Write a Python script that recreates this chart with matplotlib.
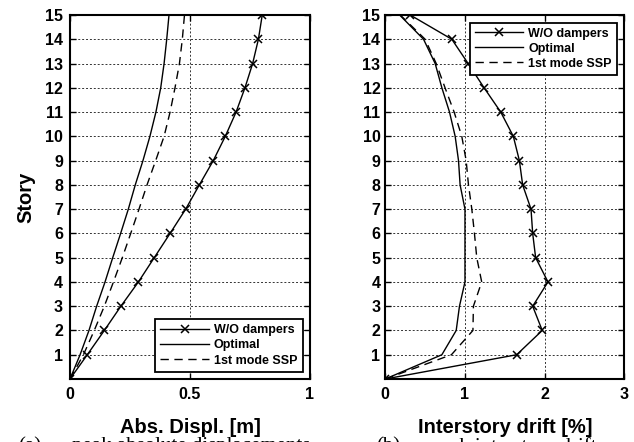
import matplotlib
matplotlib.use("Agg")
import matplotlib.pyplot as plt

# ---------------- data ----------------
stories = list(range(0, 16))
story_ticks = list(range(1, 16))

disp_wo = [0, 0.072, 0.143, 0.212, 0.285, 0.351, 0.417, 0.482, 0.539, 0.597,
           0.647, 0.692, 0.729, 0.761, 0.785, 0.801]
disp_opt = [0, 0.042, 0.079, 0.111, 0.146, 0.178, 0.211, 0.243, 0.272, 0.304,
            0.333, 0.358, 0.378, 0.392, 0.403, 0.4125]
disp_ssp = [0, 0.056, 0.101, 0.143, 0.181, 0.218, 0.253, 0.2875, 0.321, 0.357,
            0.392, 0.417, 0.4375, 0.456, 0.468, 0.477]

drift_wo = [0, 1.649, 1.97, 1.85, 2.042, 1.887, 1.85, 1.829, 1.724, 1.683,
            1.607, 1.449, 1.24, 1.04, 0.835, 0.313]
drift_opt = [0, 0.71, 0.89, 0.931, 1.0, 1.0, 1.0, 1.0, 0.939, 0.919,
             0.877, 0.806, 0.71, 0.626, 0.48, 0.18]
drift_ssp = [0, 0.83, 1.10, 1.106, 1.21, 1.148, 1.119, 1.086, 1.044, 1.015,
             0.96, 0.864, 0.75, 0.639, 0.50, 0.188]

labels = ["W/O dampers", "Optimal", "1st mode SSP"]
xlabels = ["Abs. Displ. [m]", "Interstory drift [%]"]
left_xticks = [0, 0.5, 1]
left_xticklabels = ["0", "0.5", "1"]
right_xticks = [0, 1, 2, 3]
right_xticklabels = ["0", "1", "2", "3"]

# ---------------- style ----------------
FONT = ["Liberation Sans", "DejaVu Sans"]
plt.rcParams["font.family"] = FONT
plt.rcParams["font.weight"] = "bold"

fig = plt.figure(figsize=(6.34, 4.42), dpi=100)
ax1 = fig.add_axes([70 / 634, 1 - 379 / 442, 240 / 634, 364 / 442])
ax2 = fig.add_axes([385.3 / 634, 1 - 379 / 442, 239 / 634, 364 / 442])

grid_kw = dict(color="#333333", lw=0.7, linestyle=(0, (2, 2)), zorder=0)
line_kw = dict(color="black", lw=1.0)


def draw(ax, wo, opt, ssp, xticks, xticklabels, xmax, xlabel, legloc, ypad):
    ax.set_xlim(0, xmax)
    ax.set_ylim(0, 15)
    for s in story_ticks[:-1]:
        ax.axhline(s, **grid_kw)
    for xv in xticks[1:-1]:
        ax.axvline(xv, **grid_kw)
    ax.plot(wo, stories, marker="x", ms=5.5, mew=1.1, label=labels[0], zorder=3, **line_kw)
    ax.plot(opt, stories, linestyle="-", label=labels[1], zorder=3, **line_kw)
    ax.plot(ssp, stories, linestyle=(0, (6, 4)), label=labels[2], zorder=3, **line_kw)
    ax.set_xticks(xticks)
    ax.set_xticklabels(xticklabels)
    ax.set_yticks(story_ticks)
    ax.set_yticklabels([str(s) for s in story_ticks])
    ax.tick_params(axis="both", direction="in", length=4, width=1.0,
                   top=True, right=True, labelsize=11.5)
    ax.tick_params(axis="x", pad=6)
    ax.tick_params(axis="y", pad=ypad)
    for lab in ax.get_xticklabels() + ax.get_yticklabels():
        lab.set_fontweight("bold")
    for sp in ax.spines.values():
        sp.set_linewidth(1.5)
    ax.set_xlabel(xlabel, fontsize=14.5, fontweight="bold", labelpad=11)
    leg = ax.legend(loc=legloc, prop={"size": 9, "weight": "bold"},
                    fancybox=False, framealpha=1, edgecolor="black",
                    handlelength=3.9, handletextpad=0.4, labelspacing=0.25,
                    borderpad=0.4, borderaxespad=0.6)
    leg.get_frame().set_linewidth(1.3)
    leg.set_zorder(5)


draw(ax1, disp_wo, disp_opt, disp_ssp, left_xticks, left_xticklabels, 1,
     xlabels[0], "lower right", 5)
draw(ax2, drift_wo, drift_opt, drift_ssp, right_xticks, right_xticklabels, 3,
     xlabels[1], "upper right", 3.5)

ax1.set_ylabel("Story", fontsize=14.5, fontweight="bold", labelpad=7)

# cropped caption at the bottom of the picture (cut off as in the reference)
cap_kw = dict(fontsize=15, family=["Liberation Serif", "DejaVu Serif"],
              fontweight="normal", va="top", ha="left")
y_cap = 1 - 437.5 / 442
fig.text(18 / 634, y_cap, "(a)", **cap_kw)
fig.text(72 / 634, y_cap, "peak absolute displacements", **cap_kw)
fig.text(376 / 634, y_cap, "(b)", **cap_kw)
fig.text(430 / 634, y_cap, "peak interstory drift", **cap_kw)

fig.savefig("out.png", dpi=100)
